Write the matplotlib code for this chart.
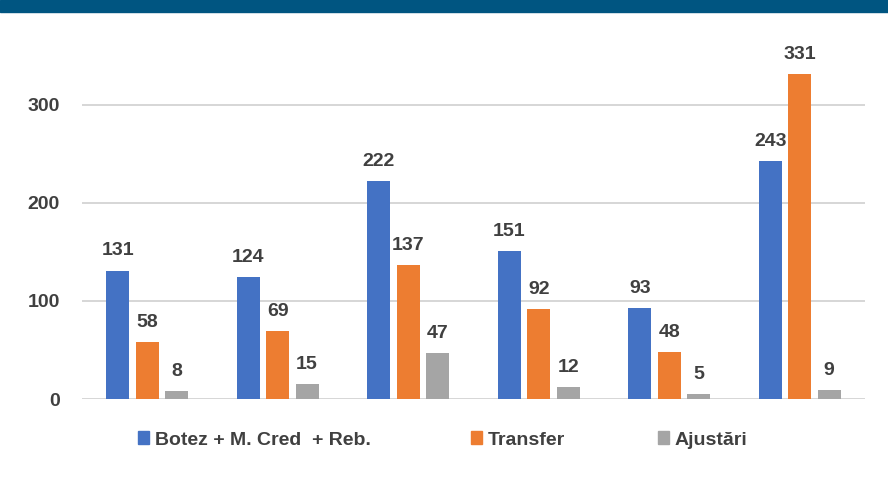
import matplotlib
matplotlib.use("Agg")
import matplotlib.pyplot as plt
import numpy as np
from matplotlib.patches import Rectangle, Patch

plt.rcParams['font.family'] = ['Liberation Sans', 'DejaVu Sans']

series_names = ["Botez + M. Cred  + Reb.", "Transfer", "Ajustări"]
botez = [131, 124, 222, 151, 93, 243]
transfer = [58, 69, 137, 92, 48, 331]
ajustari = [8, 15, 47, 12, 5, 9]
colors = ["#4472C4", "#ED7D31", "#A5A5A5"]
yticks = [0, 100, 200, 300]

fig = plt.figure(figsize=(8.88, 4.78), dpi=100)
fig.patches.append(Rectangle((0, 1 - 12/478), 1, 12/478, transform=fig.transFigure,
                             color="#005581", zorder=0))
ax = fig.add_axes([82/888, 1 - 399/478, 783/888, 353/478])

x = np.arange(len(botez))
w = 0.176
step = 0.225
text_color = "#404040"
for i, (vals, c, name) in enumerate(zip([botez, transfer, ajustari], colors, series_names)):
    pos = x + (i - 1) * step
    bars = ax.bar(pos, vals, width=w, color=c, label=name, zorder=3)
    for b, v in zip(bars, vals):
        ax.annotate(str(v), (b.get_x() + b.get_width()/2, v), xytext=(0, 8),
                    textcoords="offset points", ha="center", va="bottom",
                    fontsize=14, fontweight="bold", color=text_color)

ax.set_xlim(-0.5, len(botez) - 0.5)
ax.set_ylim(0, 360)
ax.set_yticks(yticks)
ax.set_yticklabels([str(t) for t in yticks], fontsize=14, fontweight="bold", color=text_color)
ax.yaxis.grid(True, color="#d0d0d0", linewidth=1.2, zorder=0)
ax.set_xticks([])
ax.tick_params(axis="y", length=0, pad=16)
for s in ax.spines.values():
    s.set_visible(False)

legend_x = [120, 453, 640]
for name, c, lx in zip(series_names, colors, legend_x):
    leg = fig.legend(handles=[Patch(color=c, label=name)], loc="center left",
                     bbox_to_anchor=(lx/888, 1 - 440/478), frameon=False,
                     handlelength=0.6, handleheight=0.6, handletextpad=0.3,
                     prop={'size': 14, 'weight': 'bold'})
    for t in leg.get_texts():
        t.set_color(text_color)

fig.savefig("out.png", dpi=100)
